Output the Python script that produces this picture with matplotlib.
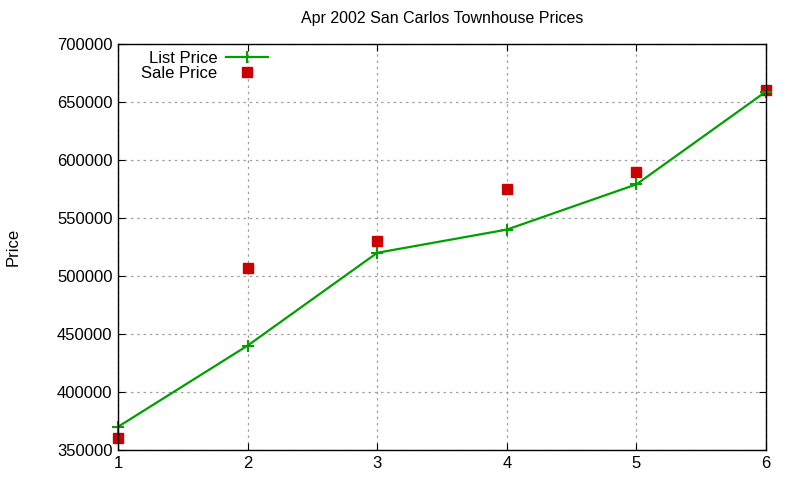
import matplotlib
matplotlib.use("Agg")
import matplotlib.pyplot as plt

homes = [1, 2, 3, 4, 5, 6]
list_price = [370000, 440000, 520000, 540000, 579000, 659000]
sale_price = [360000, 507000, 530000, 575000, 590000, 660000]

plt.rcParams['font.family'] = ['Liberation Sans', 'DejaVu Sans']

fig = plt.figure(figsize=(8, 4.8), dpi=100)
ax = fig.add_axes([118 / 800, 1 - 450 / 480, (766 - 118) / 800, (450 - 44) / 480])

ax.plot(homes, sale_price, linestyle='none', marker='s', markersize=6.5,
        color='#cc0000', label='Sale Price', clip_on=False, zorder=3)
ax.plot(homes, list_price, color='#00a000', linewidth=1.6, marker='+',
        markersize=8, markeredgewidth=1.5, label='List Price', clip_on=False, zorder=4)

ax.set_xlim(1, 6)
ax.set_ylim(350000, 700000)
ax.set_xticks(homes)
ax.set_yticks(range(350000, 700001, 50000))
ax.tick_params(direction='in', top=True, right=True, labelsize=12, length=5, pad=4)
ax.grid(True, color='#a0a0a0', linestyle=(0, (2, 3)), linewidth=0.9)
for s in ax.spines.values():
    s.set_linewidth(1.0)
    s.set_zorder(5)

ax.set_title('Apr 2002 San Carlos Townhouse Prices', fontsize=11.5, pad=15)
ax.set_ylabel('Price', fontsize=12, labelpad=26)

handles, labels = ax.get_legend_handles_labels()
leg = ax.legend(handles[::-1], labels[::-1], loc='upper right',
                bbox_to_anchor=(0.241, 1.0), frameon=False,
                markerfirst=False, fontsize=12, handlelength=2.5,
                labelspacing=0.0, borderaxespad=0.0, handletextpad=0.5)
leg._legend_box.align = 'right'

fig.savefig('out.png', dpi=100)
